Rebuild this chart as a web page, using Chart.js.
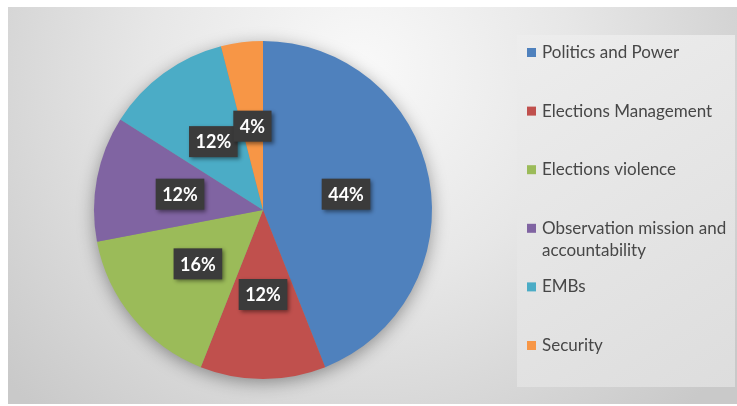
<!DOCTYPE html>
<html>
<head>
<meta charset="utf-8">
<script src="https://cdn.jsdelivr.net/npm/chart.js@4"></script>
<style>
  html, body { margin: 0; padding: 0; background: #ffffff; }
  #wrap { width: 737px; height: 406px; position: relative; }
  canvas { display: block; }
</style>
</head>
<body>
<div id="wrap"><canvas id="c" width="737" height="406"></canvas></div>
<script>
const categories = [
  "Politics and Power",
  "Elections Management",
  "Elections violence",
  "Observation mission and accountability",
  "EMBs",
  "Security"
];
const shares = [44, 12, 16, 12, 12, 4];
const sliceColors = ["#4F81BD", "#C0504D", "#9BBB59", "#8064A2", "#4BACC6", "#F79646"];

const FONT = "Lato, 'Open Sans', 'DejaVu Sans', sans-serif";

const backgroundPlugin = {
  id: "bg",
  beforeDraw(chart) {
    const ctx = chart.ctx;
    const W = chart.width, H = chart.height;
    ctx.save();
    ctx.fillStyle = "#ffffff";
    ctx.fillRect(0, 0, W, H);
    const g = ctx.createRadialGradient(360, 70, 0, 360, 70, 470);
    g.addColorStop(0, "#f9f9f9");
    g.addColorStop(0.45, "#e7e7e7");
    g.addColorStop(1, "#c9c9c9");
    ctx.fillStyle = g;
    ctx.fillRect(8, 7, W - 8, 397);
    const lg = ctx.createLinearGradient(517, 35, 735, 387);
    lg.addColorStop(0, "#ededed");
    lg.addColorStop(1, "#dddddd");
    ctx.fillStyle = lg;
    ctx.fillRect(517, 35, 218, 352);
    ctx.restore();
  },
  beforeDatasetsDraw(chart) {
    const arc = chart.getDatasetMeta(0).data[0];
    if (!arc) return;
    const ctx = chart.ctx;
    ctx.save();
    ctx.shadowColor = "rgba(0,0,0,0.4)";
    ctx.shadowBlur = 18;
    ctx.shadowOffsetY = 4;
    ctx.fillStyle = "#888888";
    ctx.beginPath();
    ctx.arc(arc.x, arc.y, arc.outerRadius - 1, 0, Math.PI * 2);
    ctx.fill();
    ctx.restore();
  },
  afterDatasetsDraw(chart) {
    const ctx = chart.ctx;
    const meta = chart.getDatasetMeta(0);
    const vals = chart.data.datasets[0].data;
    const total = vals.reduce((a, b) => a + b, 0);
    ctx.save();
    ctx.font = "bold 18px " + FONT;
    ctx.textAlign = "center";
    ctx.textBaseline = "middle";
    meta.data.forEach((arc, i) => {
      const p = arc.getCenterPoint();
      const txt = Math.round(vals[i] / total * 100) + "%";
      const w = ctx.measureText(txt).width + 13;
      const h = 31;
      ctx.save();
      ctx.shadowColor = "rgba(0,0,0,0.45)";
      ctx.shadowBlur = 4;
      ctx.shadowOffsetX = 2;
      ctx.shadowOffsetY = 2;
      ctx.fillStyle = "#3b3b3b";
      ctx.fillRect(p.x - w / 2, p.y - h / 2, w, h);
      ctx.restore();
      ctx.fillStyle = "#ffffff";
      ctx.fillText(txt, p.x, p.y + 1);
    });
    ctx.restore();
  },
  afterDraw(chart) {
    const ctx = chart.ctx;
    const labels = chart.data.labels;
    const colors = chart.data.datasets[0].backgroundColor;
    ctx.save();
    ctx.font = "17px " + FONT;
    ctx.textBaseline = "middle";
    ctx.textAlign = "left";
    const x0 = 527, tx = 542, maxW = 192;
    const y0 = 52.5, step = 58.6, lineH = 22;
    labels.forEach((lab, i) => {
      const y = y0 + i * step;
      ctx.fillStyle = colors[i];
      ctx.fillRect(x0, y - 4.5, 9, 9);
      ctx.fillStyle = "#474747";
      const words = lab.split(" ");
      let line = "", ly = y;
      words.forEach(wd => {
        const test = line ? line + " " + wd : wd;
        if (ctx.measureText(test).width > maxW && line) {
          ctx.fillText(line, tx, ly);
          line = wd;
          ly += lineH;
        } else {
          line = test;
        }
      });
      ctx.fillText(line, tx, ly);
    });
    ctx.restore();
  }
};

new Chart(document.getElementById("c"), {
  type: "pie",
  data: {
    labels: categories,
    datasets: [{
      data: shares,
      backgroundColor: sliceColors,
      borderWidth: 0
    }]
  },
  options: {
    responsive: false,
    animation: false,
    layout: { padding: { left: 94, right: 305, top: 41, bottom: 27 } },
    plugins: {
      legend: { display: false },
      tooltip: { enabled: false },
      title: { display: false }
    }
  },
  plugins: [backgroundPlugin]
});
</script>
</body>
</html>
